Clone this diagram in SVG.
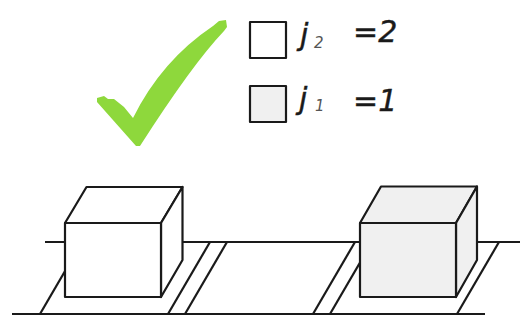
<svg xmlns="http://www.w3.org/2000/svg" width="520" height="320" viewBox="0 0 520 320">
  <style>
    .ln { stroke: #1a1a1a; stroke-width: 2.2; fill: none; stroke-linecap: butt; }
    .edge { stroke: #1a1a1a; stroke-width: 2.2; stroke-linejoin: round; }
    .plain { fill: #ffffff; }
    .shade { fill: #f0f0f0; }
    .lbl { font-family: "DejaVu Sans", "Liberation Sans", sans-serif; font-style: italic; fill: #1a1a1a; stroke: #1a1a1a; stroke-width: 0.4; font-size: 30px; }
    .sub { font-family: "DejaVu Sans", "Liberation Sans", sans-serif; font-style: italic; fill: #555; font-size: 15px; }
  </style>

  <rect width="520" height="320" fill="#ffffff"/>

  <!-- check mark -->
  <g id="check">
    <path fill="#8ed83c" d="M97,98 L104,96 L108,99 L114,99 L124,107 L133,118 Q161.5,60.5 213,26 L219,21 L226,20 L227,27 L224,31 Q192.5,64 140,146 L136,146 L97,102 Z"/>
  </g>

  <!-- legend -->
  <g id="legend-j2">
    <rect class="edge plain" x="250" y="22" width="36" height="36"/>
    <text class="lbl" x="300" y="45">j</text>
    <text class="sub" x="314" y="48">2</text>
    <text class="lbl" x="353" y="42">=2</text>
  </g>
  <g id="legend-j1">
    <rect class="edge shade" x="250" y="86" width="36" height="36"/>
    <text class="lbl" x="299" y="109">j</text>
    <text class="sub" x="315" y="111">1</text>
    <text class="lbl" x="353" y="111">=1</text>
  </g>

  <!-- track rails and sleepers -->
  <g id="connectors">
    <line class="ln" x1="45" y1="242" x2="520" y2="242"/>
    <line class="ln" x1="12" y1="314" x2="485" y2="314"/>
    <line class="ln" x1="40" y1="314" x2="82" y2="242"/>
    <line class="ln" x1="168" y1="314" x2="210" y2="242"/>
    <line class="ln" x1="185" y1="314" x2="227" y2="242"/>
    <line class="ln" x1="313" y1="314" x2="355" y2="242"/>
    <line class="ln" x1="330" y1="314" x2="372" y2="242"/>
    <line class="ln" x1="457" y1="314" x2="499" y2="242"/>
  </g>

  <!-- box for j2 (white) -->
  <g id="box-j2">
    <polygon class="edge plain" points="65,223 86.5,187 182.5,187 161,223"/>
    <polygon class="edge plain" points="161,223 182.5,187 182.5,260 161,297"/>
    <rect class="edge plain" x="65" y="223" width="96" height="74"/>
  </g>

  <!-- box for j1 (grey) -->
  <g id="box-j1">
    <polygon class="edge shade" points="360,223 381,186.5 477,186.5 456,223"/>
    <polygon class="edge shade" points="456,223 477,186.5 477,260 456,297"/>
    <rect class="edge shade" x="360" y="223" width="96" height="74"/>
  </g>
</svg>
